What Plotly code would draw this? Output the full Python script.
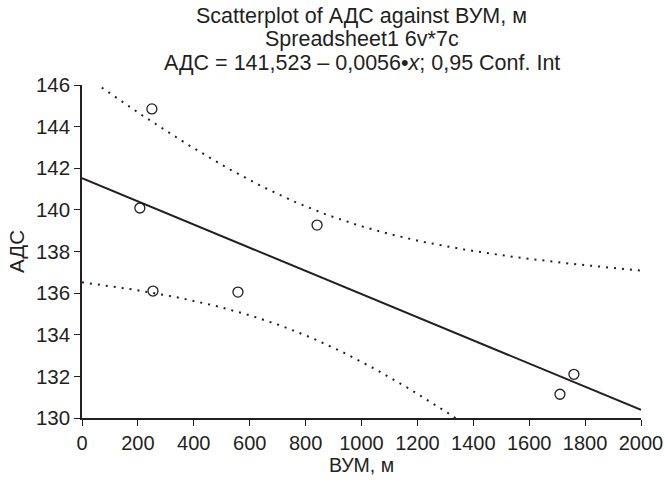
import numpy as np
import plotly.graph_objects as go

# Data
vum = [207, 250, 254, 558, 841, 1710, 1760]          # ВУМ, м
ads = [140.09, 144.85, 136.10, 136.05, 139.27, 131.14, 132.10]  # АДС

x_ticks = [0, 200, 400, 600, 800, 1000, 1200, 1400, 1600, 1800, 2000]
y_ticks = [130, 132, 134, 136, 138, 140, 142, 144, 146]

title_lines = [
    "Scatterplot of АДС against ВУМ, м",
    "Spreadsheet1 6v*7c",
    "АДС = 141,523 – 0,0056•<i>x</i>; 0,95 Conf. Int",
]

T_975_DF5 = 2.5706  # Student t quantile for 0.95 CI, df = n-2 = 5

# Linear regression and 0.95 confidence band for the mean
xa = np.array(vum, dtype=float)
ya = np.array(ads, dtype=float)
n = len(xa)
slope, intercept = np.polyfit(xa, ya, 1)
resid = ya - (intercept + slope * xa)
s = np.sqrt(np.sum(resid ** 2) / (n - 2))
sxx = np.sum((xa - xa.mean()) ** 2)
xg = np.linspace(0, 2000, 201)
yg = intercept + slope * xg
hw = T_975_DF5 * s * np.sqrt(1 / n + (xg - xa.mean()) ** 2 / sxx)

ink = "#231F20"
font_family = "Liberation Sans, Arial, sans-serif"

fig = go.Figure()
fig.add_trace(go.Scatter(x=xg, y=yg + hw, mode="lines",
                         line=dict(color=ink, width=2, dash="2px,6px"), hoverinfo="skip"))
fig.add_trace(go.Scatter(x=xg, y=yg - hw, mode="lines",
                         line=dict(color=ink, width=2, dash="2px,6px"), hoverinfo="skip"))
fig.add_trace(go.Scatter(x=xg, y=yg, mode="lines",
                         line=dict(color=ink, width=2), hoverinfo="skip"))
fig.add_trace(go.Scatter(x=vum, y=ads, mode="markers",
                         marker=dict(symbol="circle-open", size=10, color=ink,
                                     line=dict(width=1.3, color=ink))))

plot_h = 484 - 85 - 66
title_centers_px = [16, 39.5, 63]
for txt, cy in zip(title_lines, title_centers_px):
    fig.add_annotation(text=txt, xref="paper", yref="paper", x=0.5,
                       y=1 + (85 - cy) / plot_h, xanchor="center", yanchor="middle",
                       showarrow=False, font=dict(size=21.5, family=font_family, color=ink))

fig.update_layout(
    width=666, height=484,
    margin=dict(l=82, r=25, t=85, b=66),
    paper_bgcolor="white", plot_bgcolor="white",
    showlegend=False,
    font=dict(family=font_family, color=ink, size=20),
    xaxis=dict(range=[0, 2000], tickvals=x_ticks, ticks="outside", ticklen=6,
               tickwidth=1.3, tickcolor=ink, showline=True, linecolor=ink, linewidth=1.5,
               showgrid=False, zeroline=False, automargin=False,
               title=dict(text="ВУМ, м", standoff=6, font=dict(size=19.5)),
               tickfont=dict(size=20)),
    yaxis=dict(range=[130, 146], tickvals=y_ticks, ticks="outside", ticklen=6,
               tickwidth=1.3, tickcolor=ink, showline=True, linecolor=ink, linewidth=1.5,
               showgrid=False, zeroline=False, automargin=False,
               title=dict(text="АДС", standoff=6, font=dict(size=20.5)),
               tickfont=dict(size=20.5)),
)

fig.write_html("out.html")
